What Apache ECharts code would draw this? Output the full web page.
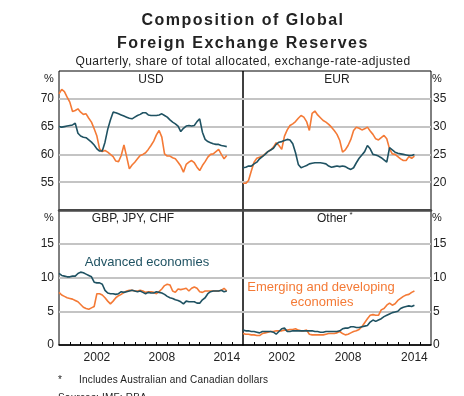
<!DOCTYPE html>
<html>
<head>
<meta charset="utf-8">
<script src="https://cdn.jsdelivr.net/npm/echarts@6/dist/echarts.min.js"></script>
<style>
  html, body { margin: 0; padding: 0; background: #fff; }
  #wrap { position: relative; width: 464px; height: 396px; overflow: hidden;
          font-family: "Liberation Sans", Arial, sans-serif; color: #222; }
  #chart { position: absolute; left: 0; top: 0; width: 464px; height: 396px; }
  .line { position: absolute; left: 0; width: 486px; text-align: center; white-space: nowrap; }
  .title { font-size: 16px; font-weight: bold; letter-spacing: 1.5px; line-height: 16px; }
  .sub { font-size: 12px; letter-spacing: 0.45px; line-height: 12px; }
  .note { position: absolute; font-size: 10px; line-height: 10px; white-space: nowrap; letter-spacing: 0.2px; }
</style>
</head>
<body>
<div id="wrap">
  <div id="chart"></div>
  <div class="line title" style="top:12px;">Composition of Global</div>
  <div class="line title" style="top:35px;">Foreign Exchange Reserves</div>
  <div class="line sub" style="top:55px;">Quarterly, share of total allocated, exchange-rate-adjusted</div>
  <div class="note" style="left:58px; top:375px;">*</div>
  <div class="note" style="left:79px; top:375px;">Includes Australian and Canadian dollars</div>
  <div class="note" style="left:58px; top:393px;">Sources: IMF; RBA</div>
</div>
<script>
// Quarterly observations, first quarter of 1999 onwards
const startYear = 1999;
const quarterStep = 0.25;

// US dollar share (%)
const usdAdvanced = [65.0,64.9,65.0,65.1,65.2,65.3,65.6,63.8,63.3,63.1,63.0,62.6,62.2,61.7,61.0,60.6,
  60.6,62.2,64.5,66.2,67.6,67.5,67.3,67.1,66.9,66.7,66.5,66.4,66.7,67.0,67.2,67.5,
  67.5,67.1,67.0,67.0,67.0,67.1,67.3,67.0,66.7,66.2,65.8,65.5,65.1,64.1,64.7,65.1,
  65.2,65.1,65.2,65.9,66.4,64.0,62.7,62.3,62.1,61.9,61.8,61.8,61.6,61.5,61.4];
const usdEmerging = [70.9,71.7,71.3,70.3,69.4,67.7,67.9,68.2,67.6,67.2,67.3,66.5,65.8,64.6,63.3,61.0,
  60.5,60.7,60.4,60.0,59.6,58.8,58.7,59.8,61.7,59.6,57.4,58.1,58.6,59.2,59.8,60.0,
  60.3,60.9,61.6,62.4,63.5,64.3,63.1,60.1,59.7,59.7,59.4,59.2,58.6,57.9,56.8,58.2,
  58.6,58.9,58.5,57.7,57.1,58.0,58.7,59.5,60.0,60.1,60.5,60.9,60.0,59.2,59.8];

// Euro share (%)
const eurAdvanced = [22.6,22.7,22.9,22.9,23.3,23.6,24.2,24.6,25.0,25.5,25.8,26.1,26.8,27.2,27.3,27.5,
  27.7,27.6,26.9,25.3,23.2,22.6,22.8,23.0,23.3,23.4,23.5,23.5,23.5,23.4,23.3,22.9,
  22.7,22.8,22.9,22.8,22.9,22.8,22.5,22.3,22.6,23.5,24.3,24.9,25.5,26.6,26.0,25.0,
  24.9,24.7,24.4,24.0,23.6,26.2,25.8,25.4,25.2,25.1,25.0,24.9,24.8,24.8,25.0];
const eurEmerging = [19.8,19.8,20.3,22.0,23.6,24.3,24.5,24.7,25.1,25.5,25.8,26.3,27.1,26.6,25.9,28.3,
  29.4,30.2,30.5,30.9,31.5,32.0,31.7,30.9,29.3,32.4,32.8,32.1,31.6,31.1,30.8,30.4,
  29.9,29.3,28.6,27.5,25.4,25.8,26.6,27.7,29.3,29.9,29.7,29.4,29.6,29.9,29.2,28.6,
  27.8,27.6,28.0,28.4,27.8,26.0,25.1,25.0,24.6,24.2,23.9,23.9,24.6,24.3,24.7];

// Combined pound, yen and Swiss franc share (%)
const gbpAdvanced = [10.6,10.3,10.2,10.1,10.1,10.2,10.2,10.6,10.8,10.7,10.5,10.3,10.1,9.3,9.2,9.2,
  9.0,8.1,7.7,7.6,7.6,7.5,7.6,7.9,7.8,7.9,8.0,8.1,8.0,7.9,8.0,7.8,
  7.6,7.8,7.7,7.7,7.9,7.8,7.7,7.5,7.2,7.0,6.9,6.7,6.6,6.4,6.1,6.5,
  6.4,6.4,6.4,6.2,6.2,6.7,7.0,7.6,7.9,8.0,8.0,8.0,8.1,7.9,8.0];
const gbpEmerging = [7.8,7.4,7.2,7.0,6.9,6.8,6.6,6.4,6.0,5.6,5.4,5.3,5.5,5.7,7.6,7.6,
  7.4,7.0,6.5,6.1,6.5,7.0,7.3,7.5,7.8,8.0,8.1,8.1,8.0,8.0,8.1,8.0,
  7.8,7.9,7.9,7.8,7.6,7.9,8.3,8.8,9.0,8.9,8.0,7.8,8.3,8.2,8.3,8.4,
  8.0,8.4,8.6,8.4,7.9,7.8,8.0,8.0,8.0,8.0,8.0,8.0,8.1,8.4,8.0];

// Other currencies share (%)
const otherAdvanced = [2.2,2.1,2.1,2.0,2.0,1.9,1.8,2.0,2.0,2.0,2.0,1.9,1.6,2.0,2.4,2.5,
  2.0,2.0,2.1,2.1,2.1,2.1,2.1,2.1,2.1,2.1,2.0,2.0,1.9,1.9,2.0,2.0,
  2.0,2.0,2.0,2.1,2.4,2.5,2.5,2.7,2.7,2.6,2.6,2.7,2.8,2.9,3.4,3.7,
  3.5,3.7,3.9,4.2,4.4,4.6,4.8,4.9,5.0,5.4,5.6,5.7,5.8,5.7,5.9];
const otherEmerging = [1.7,1.6,1.6,1.5,1.5,1.4,1.4,1.7,1.8,1.9,2.0,2.0,2.1,2.1,2.1,2.2,
  2.2,2.3,2.3,2.4,2.2,2.1,2.1,2.2,1.6,1.5,1.5,1.5,1.5,1.5,1.6,1.7,
  1.7,1.7,1.8,2.0,1.7,1.5,1.6,1.8,2.0,2.1,2.3,2.7,3.3,3.9,4.4,4.5,
  4.4,4.4,5.2,5.4,5.9,6.2,5.9,6.1,6.6,6.9,7.2,7.4,7.5,7.8,8.0];

// Axis definitions
const xMin = 1999, xMax = 2016;
const xLabelYears = [2002, 2008, 2014];
const panelTitles = ['USD', 'EUR', 'GBP, JPY, CHF', 'Other'];
const yRanges = [[50, 75], [15, 40], [0, 20], [0, 20]];
const yStep = 5;

const BLUE = '#1f5262';
const ORANGE = '#f47a36';
const GRID_GREY = '#c4c4c4';
const TEXT = '#222';
const FONT = '"Liberation Sans", Arial, sans-serif';

function toSeriesData(values) {
  return values.map((v, i) => [startYear + i * quarterStep, v]);
}

const grids = [
  { left: 59, top: 71, width: 184, height: 139 },
  { left: 243, top: 71, width: 188, height: 139 },
  { left: 59, top: 210, width: 184, height: 135 },
  { left: 243, top: 210, width: 188, height: 135 }
].map(g => Object.assign({ show: true, borderColor: '#000', borderWidth: 1, backgroundColor: 'transparent' }, g));

const yearTicks = [];
for (let y = xMin + 1; y < xMax; y++) yearTicks.push(y);

const xAxes = [0, 1, 2, 3].map(i => {
  const bottomRow = i >= 2;
  return {
    type: 'value', gridIndex: i, min: xMin, max: xMax, interval: 1,
    axisLine: bottomRow
      ? { show: true, lineStyle: { color: '#000', width: 1.5 } }
      : { show: true, lineStyle: { color: '#4a4a4a', width: 2.5 } },
    axisTick: bottomRow
      ? { show: true, inside: true, length: 3, customValues: yearTicks, lineStyle: { color: '#000', width: 1 } }
      : { show: false },
    axisLabel: bottomRow
      ? { show: true, customValues: xLabelYears.map(y => y + 0.5), formatter: v => String(Math.floor(v)),
          color: TEXT, fontSize: 12, fontFamily: FONT, margin: 7 }
      : { show: false },
    splitLine: { show: false },
    z: 5
  };
});

const yAxes = [0, 1, 2, 3].map(i => {
  const [lo, hi] = yRanges[i];
  const n = Math.round((hi - lo) / yStep) + 1;
  const colors = [];
  for (let k = 0; k < n; k++) colors.push(k === 0 || k === n - 1 ? 'rgba(0,0,0,0)' : GRID_GREY);
  const right = i % 2 === 1;
  return {
    type: 'value', gridIndex: i, min: lo, max: hi, interval: yStep,
    position: right ? 'right' : 'left',
    axisLine: { show: false },
    axisTick: { show: false },
    axisLabel: {
      color: TEXT, fontSize: 12, fontFamily: FONT, margin: right ? 2 : 5,
      formatter: v => (v === hi || (v === lo && i < 2)) ? '' : String(v)
    },
    splitLine: { show: true, lineStyle: { color: colors, width: 2 } }
  };
});

function line(values, color, idx) {
  return {
    type: 'line', xAxisIndex: idx, yAxisIndex: idx, data: toSeriesData(values),
    showSymbol: false, symbol: 'none', animation: false,
    lineStyle: { color: color, width: 1.6 }, z: 3
  };
}

const series = [
  line(usdEmerging, ORANGE, 0), line(usdAdvanced, BLUE, 0),
  line(eurEmerging, ORANGE, 1), line(eurAdvanced, BLUE, 1),
  line(gbpEmerging, ORANGE, 2), line(gbpAdvanced, BLUE, 2),
  line(otherEmerging, ORANGE, 3), line(otherAdvanced, BLUE, 3)
];

function txt(text, x, y, opts) {
  return {
    type: 'text', x: x, y: y, z: 10,
    style: Object.assign({ text: text, fill: TEXT, font: '12px ' + FONT, align: 'center', verticalAlign: 'middle' }, opts || {})
  };
}

const graphic = [
  txt(panelTitles[0], 151, 80),
  txt(panelTitles[1], 337, 80),
  txt(panelTitles[2], 133, 219),
  txt(panelTitles[3], 332, 219),
  txt('*', 351, 215, { font: '8px ' + FONT }),
  txt('%', 49, 79, { font: '11px ' + FONT }),
  txt('%', 437, 79, { font: '11px ' + FONT }),
  txt('%', 49, 218, { font: '11px ' + FONT }),
  txt('%', 437, 218, { font: '11px ' + FONT }),
  txt('Advanced economies', 147, 262, { fill: BLUE, font: '13px ' + FONT }),
  txt('Emerging and developing', 321, 287, { fill: ORANGE, font: '13px ' + FONT }),
  txt('economies', 322, 302, { fill: ORANGE, font: '13px ' + FONT })
];

const chart = echarts.init(document.getElementById('chart'), null, { renderer: 'canvas' });
chart.setOption({
  animation: false,
  backgroundColor: 'transparent',
  grid: grids,
  xAxis: xAxes,
  yAxis: yAxes,
  series: series,
  graphic: graphic
});
</script>
</body>
</html>
